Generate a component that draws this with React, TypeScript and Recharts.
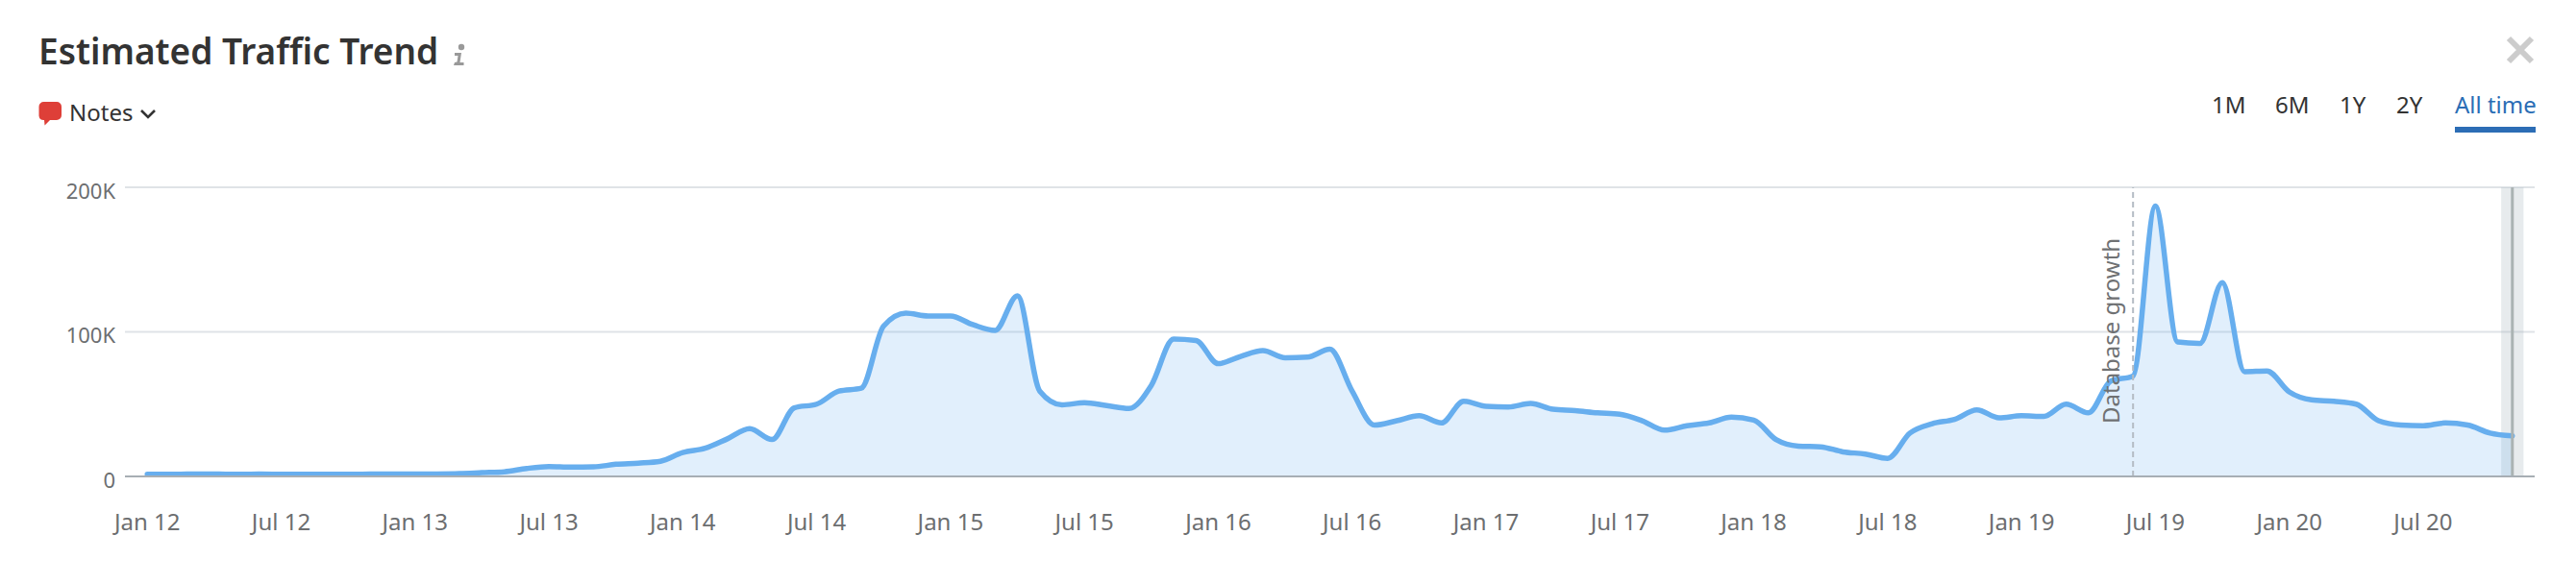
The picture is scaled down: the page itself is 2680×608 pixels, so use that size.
import { AreaChart, Area, XAxis, YAxis, CartesianGrid, ReferenceLine, ReferenceArea, Label } from 'recharts';

const FONT = '"Noto Sans", sans-serif';

const monthNames = ['Jan', 'Feb', 'Mar', 'Apr', 'May', 'Jun', 'Jul', 'Aug', 'Sep', 'Oct', 'Nov', 'Dec'];
const years = ['12', '13', '14', '15', '16', '17', '18', '19', '20'];
const months = years.flatMap((y) => monthNames.map((m) => `${m} ${y}`)).slice(0, 107);

const traffic = [
  1.5, 1.5, 1.6, 1.6, 1.5, 1.6, 1.5, 1.5, 1.5, 1.5, 1.6, 1.6,
  1.6, 1.7, 2, 2.6, 3.2, 5.5, 6.8, 6.4, 6.6, 8.4, 9.2, 10.5,
  16.5, 19.5, 26, 33, 25.5, 47.5, 50, 59, 61, 104, 113, 111,
  111, 105, 101, 125, 59, 49.5, 51, 49, 47, 63, 95, 94,
  78, 83, 87, 82, 82.5, 88, 59, 35.5, 38.5, 42, 37, 52,
  48.5, 48, 50.5, 46.5, 45.5, 44, 43, 38.5, 32, 35, 37, 41,
  39, 25.5, 21, 20.5, 17, 15.5, 12.5, 30, 36.5, 39.5, 46, 40.5,
  42, 41.5, 50, 44, 66, 69.5, 187, 93, 92, 134, 72.5, 73,
  58.5, 53, 52, 50, 38.5, 35.5, 35, 37, 35.5, 30, 28,
];
const rows = months.map((month, index) => ({ index, month, value: traffic[index] * 1000 }));

const xTicks = [0, 6, 12, 18, 24, 30, 36, 42, 48, 54, 60, 66, 72, 78, 84, 90, 96, 102];
const yTicks = [0, 100000, 200000];
const ranges = [
  { label: '1M', x: 2301 },
  { label: '6M', x: 2367 },
  { label: '1Y', x: 2434 },
  { label: '2Y', x: 2493 },
];
const NOTE_MONTH = 'Jun 19';
const LAST_MONTH = 'Nov 20';

const fmtY = (v: number) => (v === 0 ? '0' : `${v / 1000}K`);
const fmtX = (i: number) => months[i];

function NoteLabel({ viewBox }: any) {
  const x = viewBox.x - 23;
  const y = 441;
  return (
    <text x={x} y={y} transform={`rotate(-90 ${x} ${y})`} dy={9} fontSize={24} fontFamily={FONT} fill="#6f7173">
      Database growth
    </text>
  );
}

function abs(left: number, top: number, extra: object = {}) {
  return { position: 'absolute' as const, left, top, fontFamily: FONT, lineHeight: 1, whiteSpace: 'nowrap' as const, ...extra };
}

export default function App() {
  return (
    <div style={{ position: 'absolute', left: 0, top: 0, width: 2680, height: 608, background: '#fff', overflow: 'hidden' }}>
      <AreaChart width={2680} height={608} data={rows} margin={{ top: 195, right: 43, bottom: 0, left: 0 }}>
        <CartesianGrid vertical={false} stroke="#dfe3e7" strokeWidth={2} />
        <XAxis
          dataKey="index"
          type="number"
          domain={[-1, 107]}
          ticks={xTicks}
          tickFormatter={fmtX}
          interval={0}
          tickLine={false}
          axisLine={{ stroke: '#a7aeb4', strokeWidth: 2 }}
          tick={{ fontSize: 24, fontFamily: FONT, fill: '#6c6e70' }}
          tickMargin={33}
          height={112}
        />
        <YAxis
          width={130}
          domain={[0, 200000]}
          ticks={yTicks}
          tickFormatter={fmtY}
          tickLine={false}
          axisLine={false}
          tick={{ fontSize: 22, fontFamily: FONT, fill: '#6c6e70', dy: 4 }}
          tickMargin={4}
        />
        <ReferenceArea x1={months.indexOf(LAST_MONTH) - 0.5} x2={months.indexOf(LAST_MONTH) + 0.5} fill="#9fb0b8" fillOpacity={0.25} stroke="none" />
        <ReferenceLine x={months.indexOf(LAST_MONTH)} stroke="#aab3b3" strokeWidth={3} />
        <ReferenceLine x={months.indexOf(NOTE_MONTH)} stroke="#b4bcc4" strokeWidth={2} strokeDasharray="6 4">
          <Label content={NoteLabel} />
        </ReferenceLine>
        <Area
          dataKey="value"
          type="monotone"
          stroke="#67aeee"
          strokeWidth={5.5}
          strokeLinecap="round"
          fill="#67aeee"
          fillOpacity={0.2}
          dot={false}
          activeDot={false}
          isAnimationActive={false}
        />
      </AreaChart>

      <div style={abs(40, 34, { fontSize: 37, fontWeight: 600, color: '#333' })}>Estimated Traffic Trend</div>
      <svg style={{ position: 'absolute', left: 470, top: 44 }} width={16} height={26} viewBox="0 0 16 26">
        <circle cx={10} cy={5} r={3.2} fill="#999" />
        <path d="M3 11h7l-1.500 10h4v3H2l1-3 2.500-.5 1-6.500H3z" fill="#999" />
      </svg>

      <svg style={{ position: 'absolute', left: 40, top: 105 }} width={25} height={26} viewBox="0 0 25 26">
        <path d="M6 1h13a5 5 0 0 1 5 5v9a5 5 0 0 1-5 5h-7l-5.500 5.500-.5-5.500h-.500a5 5 0 0 1-5-4.500v-9.500a5 5 0 0 1 5-5z" fill="#de3f38" />
      </svg>
      <div style={abs(72, 105, { fontSize: 24, color: '#333' })}>Notes</div>
      <svg style={{ position: 'absolute', left: 145, top: 112 }} width={18} height={14} viewBox="0 0 18 14">
        <path d="M2 3l7 7 7-7" fill="none" stroke="#333" strokeWidth={2.6} />
      </svg>

      {ranges.map((r) => (
        <div key={r.label} style={abs(r.x, 97, { fontSize: 24, color: '#333' })}>{r.label}</div>
      ))}
      <div style={abs(2554, 97, { fontSize: 24, color: '#2a6db5' })}>All time</div>
      <div style={{ position: 'absolute', left: 2554, top: 132, width: 84, height: 6, background: '#2c6db5' }} />

      <svg style={{ position: 'absolute', left: 2606, top: 36 }} width={32} height={32} viewBox="0 0 32 32">
        <path d="M4 4l24 24M28 4L4 28" fill="none" stroke="#ccc" strokeWidth={6} />
      </svg>
    </div>
  );
}
